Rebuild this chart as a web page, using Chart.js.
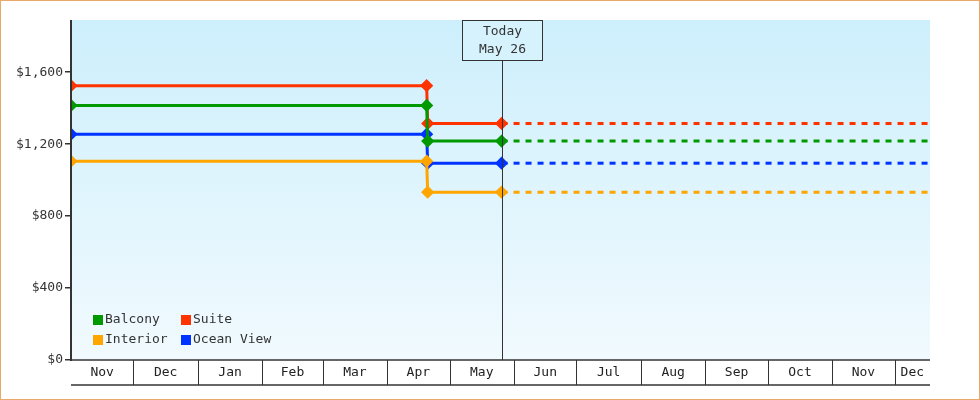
<!DOCTYPE html>
<html><head><meta charset="utf-8">
<script src="https://cdn.jsdelivr.net/npm/chart.js@4"></script>
<style>html,body{margin:0;padding:0;background:#fff}#w{width:980px;height:400px;position:relative}</style>
</head><body><div id="w"><canvas id="c"></canvas></div>
<script>
const series = ['Balcony','Suite','Interior','Ocean View'];
const colors = ['#009900','#ff3300','#ffa500','#0033ff'];
const oldPrices = [1415,1525,1105,1255];
const newPrices = [1217,1315,933,1094];
const startDate = '2023-11-01';
const changeDate = '2024-04-20';
const todayDate = '2024-05-26';
const endDate = '2024-12-18';
const monthLabels = ['Nov','Dec','Jan','Feb','Mar','Apr','May','Jun','Jul','Aug','Sep','Oct','Nov','Dec'];
const monthStarts = ['2023-11-01','2023-12-01','2024-01-01','2024-02-01','2024-03-01','2024-04-01','2024-05-01','2024-06-01','2024-07-01','2024-08-01','2024-09-01','2024-10-01','2024-11-01','2024-12-01'];
const yTicks = [0,400,800,1200,1600];

const day = s => Date.parse(s+'T00:00:00Z')/86400000;
const x0 = day(startDate), xc = day(changeDate), xt = day(todayDate), xe = day(endDate);
const FONT = '"DejaVu Sans Mono", monospace';

const datasets = [];
series.forEach((n,i)=>{
  datasets.push({label:n,data:[{x:x0,y:oldPrices[i]},{x:xc,y:oldPrices[i]},{x:xc+0.5,y:newPrices[i]},{x:xt,y:newPrices[i]}],
    borderColor:colors[i],backgroundColor:colors[i],borderWidth:3,pointStyle:'rectRot',pointRadius:4.5,pointHoverRadius:4.5,tension:0});
  datasets.push({label:n+' proj',data:[{x:xt,y:newPrices[i]},{x:xe,y:newPrices[i]}],
    borderColor:colors[i],borderWidth:3,borderDash:[6,6],pointRadius:0,tension:0});
});

const deco = {
  id:'deco',
  beforeDraw(ch){
    const {ctx,chartArea:a}=ch;
    const g=ctx.createLinearGradient(0,a.top,0,a.bottom);
    g.addColorStop(0,'#cdeffc');g.addColorStop(1,'#f1fafe');
    ctx.fillStyle=g;ctx.fillRect(a.left,a.top,a.right-a.left,a.bottom-a.top);
  },
  afterDatasetsDraw(ch){
    const {ctx,chartArea:a,scales:{x}}=ch;
    ctx.save();
    const tx=Math.round(x.getPixelForValue(xt))+0.5;
    ctx.strokeStyle='#333';ctx.lineWidth=1;
    ctx.beginPath();ctx.moveTo(tx,60);ctx.lineTo(tx,a.bottom);ctx.stroke();
    ctx.fillStyle='#d6f2fc';ctx.fillRect(tx-40,20.5,80,40);
    ctx.strokeRect(tx-40,20.5,80,40);
    ctx.fillStyle='#333';ctx.font='13px '+FONT;ctx.textAlign='center';ctx.textBaseline='middle';
    ctx.fillText('Today',tx,32);ctx.fillText('May 26',tx,50);
    ctx.strokeStyle='#333';ctx.lineWidth=2;
    ctx.beginPath();ctx.moveTo(a.left,a.top);ctx.lineTo(a.left,a.bottom+1);ctx.stroke();
    ctx.lineWidth=1.5;
    ctx.beginPath();ctx.moveTo(a.left,a.bottom);ctx.lineTo(a.right,a.bottom);ctx.stroke();
    ctx.beginPath();ctx.moveTo(a.left,a.bottom+25);ctx.lineTo(a.right,a.bottom+25);ctx.stroke();
    ctx.lineWidth=1;
    const ends = monthStarts.map(day).concat([xe]);
    for(let i=0;i<monthLabels.length;i++){
      const p1=x.getPixelForValue(ends[i]), p2=x.getPixelForValue(ends[i+1]);
      if(i>0){ctx.beginPath();ctx.moveTo(Math.round(p1)+0.5,a.bottom);ctx.lineTo(Math.round(p1)+0.5,a.bottom+25);ctx.stroke();}
      ctx.fillStyle='#222';ctx.fillText(monthLabels[i],(p1+p2)/2,a.bottom+13);
    }
    const pos=[[93,320],[181,320],[93,340],[181,340]];
    ctx.textAlign='left';
    series.forEach((n,i)=>{
      const [lx,ly]=pos[i];
      ctx.fillStyle=colors[i];ctx.fillRect(lx,ly-5,10,10);
      ctx.fillStyle='#333';ctx.fillText(n,lx+12,ly);
    });
    ctx.strokeStyle='#e8a868';ctx.lineWidth=1;ctx.strokeRect(0.5,0.5,979,399);
    ctx.restore();
  }
};

new Chart(document.getElementById('c'),{
  type:'line',
  data:{datasets},
  options:{
    responsive:true,maintainAspectRatio:false,animation:false,
    layout:{padding:{left:0,top:20,right:50,bottom:40}},
    plugins:{legend:{display:false},tooltip:{enabled:false}},
    scales:{
      x:{type:'linear',min:x0,max:xe,display:false},
      y:{min:0,max:1890,afterFit(s){s.width=71;},
        afterBuildTicks(s){s.ticks=yTicks.map(v=>({value:v}));},
        grid:{drawOnChartArea:false,drawTicks:true,tickLength:6,color:'#333',lineWidth:1.5},
        border:{display:false},
        ticks:{color:'#333',font:{family:FONT,size:13},padding:2,callback:v=>'$'+v.toLocaleString('en-US')}}
    }
  },
  plugins:[deco]
});
</script></body></html>
